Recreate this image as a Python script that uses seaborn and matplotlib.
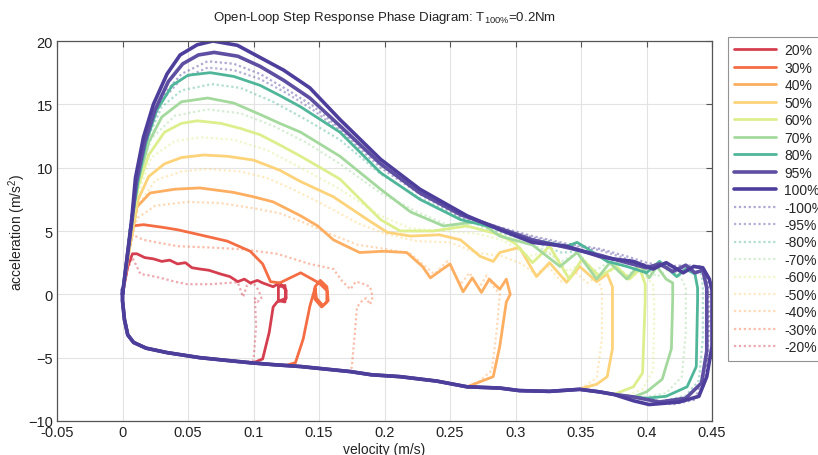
import numpy as np
import pandas as pd
import matplotlib
matplotlib.use("Agg")
import matplotlib.pyplot as plt
import seaborn as sns
from matplotlib.lines import Line2D

# ---------------- data ----------------
LABELS_POS = ["20%", "30%", "40%", "50%", "60%", "70%", "80%", "95%", "100%"]
LABELS_NEG = ["-100%", "-95%", "-80%", "-70%", "-60%", "-50%", "-40%", "-30%", "-20%"]

# shared return path (deceleration branch, high -> low velocity)
BOTTOM_V = [0.39, 0.375, 0.364, 0.349, 0.326, 0.303, 0.288, 0.263, 0.24, 0.212, 0.19, 0.174,
            0.155, 0.136, 0.115, 0.0975, 0.078, 0.059, 0.034, 0.018, 0.0085, 0.004, 0.0015, 0.0, 0.0]
BOTTOM_A = [-8.1, -7.9, -7.7, -7.5, -7.66, -7.6, -7.4, -7.3, -6.85, -6.5, -6.35, -6.1,
            -5.9, -5.7, -5.55, -5.4, -5.2, -5.0, -4.6, -4.25, -3.8, -3.2, -2.0, -0.5, 0.4]

V_20 = [0, 0.004, 0.0076, 0.011, 0.017, 0.0236, 0.03, 0.036, 0.042, 0.048, 0.053, 0.059, 0.066, 0.075,
        0.082, 0.088, 0.093, 0.0975, 0.103, 0.107, 0.115, 0.12, 0.125, 0.124, 0.119, 0.119, 0.124,
        0.125, 0.118, 0.115, 0.112, 0.107, 0.1]
A_20 = [0, 2.2, 3.2, 3.2, 2.9, 2.8, 2.6, 2.7, 2.4, 2.5, 2.1, 2.0, 1.9, 1.6,
        1.4, 1.0, 1.2, 0.9, 1.1, 0.9, 0.6, 0.9, 0.3, -0.6, -0.5, 0.6, 0.7,
        -0.3, -0.6, -1.0, -3.0, -5.1, -5.4]

V_30 = [0, 0.004, 0.0076, 0.016, 0.03, 0.042, 0.059, 0.08, 0.0975, 0.107, 0.113, 0.12, 0.128,
        0.136, 0.143, 0.15, 0.156, 0.156, 0.152, 0.147, 0.147, 0.151, 0.156, 0.157, 0.153, 0.148,
        0.147, 0.143, 0.138, 0.132, 0.125]
A_30 = [0, 3.0, 5.4, 5.5, 5.3, 5.1, 4.7, 4.2, 3.4, 2.4, 1.0, 0.9, 1.3,
        1.7, 1.3, 0.9, 0.3, -0.6, -1.0, -0.4, 0.6, 1.1, 0.6, -0.5, -0.9, -0.3,
        0.5, -0.95, -3.5, -5.4, -5.6]

V_40 = [0, 0.005, 0.011, 0.021, 0.04, 0.059, 0.0846, 0.1, 0.115, 0.136, 0.149, 0.161, 0.181, 0.199,
        0.217, 0.229, 0.235, 0.25, 0.26, 0.267, 0.274, 0.28, 0.288, 0.293, 0.296, 0.293, 0.288,
        0.283, 0.273]
A_40 = [0, 3.5, 6.9, 8.0, 8.3, 8.4, 8.05, 7.7, 7.3, 6.2, 5.4, 4.3, 3.3, 3.4,
        3.3, 2.2, 1.3, 2.4, 0.2, 1.3, 0.15, 1.2, 0.4, 1.2, 0.0, -0.6, -4.1,
        -6.5, -6.9]

V_50 = [0, 0.006, 0.012, 0.02, 0.032, 0.045, 0.062, 0.08, 0.1, 0.12, 0.136, 0.161, 0.187, 0.202,
        0.22, 0.242, 0.258, 0.273, 0.283, 0.288, 0.303, 0.316, 0.326, 0.339, 0.349, 0.362, 0.37,
        0.374, 0.374, 0.374, 0.37, 0.362, 0.351]
A_50 = [0, 4.0, 7.5, 9.3, 10.3, 10.8, 11.0, 10.9, 10.6, 9.8, 8.9, 7.7, 5.9, 4.9,
        4.6, 4.7, 4.3, 3.0, 2.6, 3.3, 3.7, 1.4, 2.5, 0.95, 2.2, 1.0, 1.6,
        0.6, -0.4, -4.3, -6.5, -7.1, -7.4]

V_60 = [0, 0.006, 0.012, 0.02, 0.032, 0.045, 0.057, 0.075, 0.09, 0.105, 0.12, 0.136, 0.166, 0.197,
        0.212, 0.237, 0.263, 0.288, 0.3, 0.313, 0.326, 0.341, 0.351, 0.364, 0.377, 0.387, 0.395,
        0.399, 0.399, 0.397, 0.39, 0.375]
A_60 = [0, 4.5, 8.5, 11.0, 12.8, 13.5, 13.7, 13.5, 13.1, 12.6, 11.8, 10.9, 9.1, 5.9,
        5.0, 5.0, 5.4, 4.7, 4.0, 2.5, 3.8, 1.2, 2.8, 1.4, 2.2, 1.2, 2.0,
        0.8, -0.5, -6.2, -7.3, -7.9]

V_70 = [0, 0.006, 0.012, 0.02, 0.03, 0.045, 0.065, 0.085, 0.105, 0.12, 0.136, 0.166, 0.197, 0.22,
        0.245, 0.26, 0.273, 0.288, 0.313, 0.334, 0.347, 0.362, 0.372, 0.385, 0.395, 0.402, 0.408,
        0.415, 0.42, 0.42, 0.419, 0.412, 0.4, 0.39]
A_70 = [0, 5.0, 9.0, 12.0, 14.0, 15.2, 15.5, 15.1, 14.2, 13.5, 12.8, 10.9, 8.3, 6.5,
        5.4, 5.6, 5.7, 4.6, 3.9, 2.2, 3.3, 1.2, 2.5, 1.2, 2.4, 1.3, 2.2,
        1.2, 0.9, -0.4, -4.3, -6.7, -7.7, -8.1]

V_80 = [0, 0.006, 0.012, 0.018, 0.026, 0.038, 0.05, 0.067, 0.085, 0.105, 0.12, 0.136, 0.166, 0.197,
        0.227, 0.258, 0.278, 0.288, 0.313, 0.339, 0.347, 0.355, 0.37, 0.385, 0.4, 0.41, 0.423,
        0.43, 0.437, 0.439, 0.439, 0.438, 0.431, 0.415, 0.4]
A_80 = [0, 5.2, 9.0, 12.0, 14.5, 16.5, 17.3, 17.5, 17.2, 16.5, 15.7, 14.8, 12.8, 9.6,
        7.5, 5.9, 5.4, 5.2, 4.3, 3.8, 4.1, 3.6, 2.6, 2.2, 1.7, 2.6, 1.4,
        2.0, 1.6, 0.5, -0.4, -5.7, -7.3, -8.05, -8.2]

V_95 = [0, 0.003, 0.007, 0.0105, 0.017, 0.025, 0.035, 0.046, 0.058, 0.07, 0.088, 0.105, 0.123, 0.143,
        0.166, 0.197, 0.227, 0.258, 0.288, 0.313, 0.339, 0.364, 0.385, 0.4, 0.41, 0.42, 0.43,
        0.437, 0.443, 0.446, 0.446, 0.442, 0.43, 0.41]
A_95 = [0, 2.4, 5.6, 8.8, 12.0, 14.6, 16.8, 18.2, 18.9, 19.1, 18.8, 18.0, 16.9, 15.5,
        13.3, 10.3, 8.0, 6.3, 5.2, 4.3, 3.7, 3.1, 2.5, 2.1, 2.4, 1.8, 2.3,
        1.7, 1.9, 0.5, -4.5, -7.0, -8.2, -8.5]

V_100 = [0, 0.003, 0.007, 0.0099, 0.016, 0.0236, 0.034, 0.044, 0.057, 0.069, 0.0877, 0.105, 0.123,
         0.143, 0.166, 0.197, 0.227, 0.263, 0.288, 0.313, 0.339, 0.364, 0.374, 0.39, 0.405, 0.415,
         0.428, 0.436, 0.443, 0.448, 0.45, 0.45, 0.446, 0.44, 0.425, 0.402, 0.39]
A_100 = [0, 2.5, 5.9, 9.2, 12.4, 15.0, 17.4, 18.9, 19.7, 20.0, 19.66, 18.7, 17.7,
         16.3, 13.8, 10.66, 8.3, 6.2, 5.1, 4.1, 3.8, 3.0, 2.8, 2.6, 2.0, 2.5,
         1.7, 2.2, 2.1, 1.2, 0.3, -4.1, -6.5, -8.05, -8.5, -8.7, -8.4]

V_N20 = [0, 0.004, 0.0076, 0.0137, 0.02, 0.029, 0.04, 0.0495, 0.067, 0.08, 0.088, 0.092, 0.095,
         0.1, 0.104, 0.106, 0.103, 0.101, 0.102, 0.1, 0.095]
A_N20 = [0, 2.0, 2.9, 1.6, 1.5, 1.3, 1.0, 0.8, 0.8, 0.9, 0.95, -0.2, 0.7,
         0.9, 0.3, -0.3, -0.6, -0.3, -2.5, -5.2, -5.35]

V_N30 = [0, 0.004, 0.0076, 0.016, 0.042, 0.067, 0.092, 0.118, 0.143, 0.161, 0.168, 0.174, 0.178,
         0.182, 0.189, 0.191, 0.189, 0.186, 0.183, 0.179, 0.177, 0.175, 0.17]
A_N30 = [0, 3.0, 4.7, 4.3, 3.8, 3.7, 3.55, 3.2, 2.4, 2.0, 1.0, 0.4, 1.0,
         0.9, 0.6, -0.2, -0.8, -0.3, -0.5, -1.0, -3.5, -5.8, -6.1]

V_N40 = [0, 0.005, 0.011, 0.025, 0.05, 0.075, 0.1, 0.12, 0.14, 0.16, 0.18, 0.2, 0.22, 0.23,
         0.238, 0.248, 0.258, 0.265, 0.272, 0.278, 0.284, 0.288, 0.286, 0.282, 0.272]
A_N40 = [0, 3.5, 6.0, 7.0, 7.3, 7.2, 6.8, 6.4, 5.6, 4.7, 3.9, 3.6, 3.2, 2.3,
         1.6, 2.6, 0.8, 1.7, 0.5, 1.5, 0.5, 0.0, -2.5, -6.0, -6.9]

V_N50 = [0, 0.006, 0.012, 0.025, 0.045, 0.065, 0.09, 0.11, 0.13, 0.155, 0.18, 0.2, 0.225, 0.25,
         0.27, 0.29, 0.305, 0.315, 0.325, 0.335, 0.345, 0.355, 0.362, 0.366, 0.366, 0.362, 0.352]
A_N50 = [0, 4.0, 7.0, 9.0, 9.7, 9.9, 9.7, 9.2, 8.3, 7.0, 5.6, 4.8, 4.2, 4.1,
         3.3, 3.0, 2.4, 1.6, 2.2, 1.0, 1.8, 0.9, 1.4, 0.3, -3.5, -6.6, -7.3]

V_N60 = [0, 0.006, 0.012, 0.022, 0.04, 0.06, 0.085, 0.11, 0.136, 0.166, 0.197, 0.22, 0.245, 0.27,
         0.29, 0.31, 0.325, 0.34, 0.352, 0.365, 0.378, 0.388, 0.395, 0.405, 0.406, 0.405, 0.397, 0.385]
A_N60 = [0, 4.5, 8.0, 10.8, 12.1, 12.4, 12.2, 11.4, 10.0, 8.3, 6.2, 5.2, 5.0, 4.8,
         4.3, 3.0, 3.4, 1.8, 2.6, 1.5, 2.1, 1.3, 1.8, 0.8, -1.0, -6.0, -7.5, -8.0]

V_N70 = [0, 0.006, 0.012, 0.022, 0.04, 0.065, 0.09, 0.115, 0.14, 0.166, 0.197, 0.225, 0.25, 0.275,
         0.3, 0.32, 0.335, 0.348, 0.36, 0.372, 0.385, 0.397, 0.408, 0.417, 0.427, 0.43, 0.43,
         0.427, 0.415, 0.4]
A_N70 = [0, 5.0, 9.0, 12.3, 14.1, 14.6, 14.3, 13.3, 12.0, 10.3, 8.0, 6.5, 5.4, 5.2,
         4.5, 3.6, 2.6, 3.3, 1.8, 2.6, 1.5, 2.3, 1.4, 2.0, 1.2, 0.5, -3.0,
         -6.5, -7.8, -8.1]

V_N80 = [0, 0.006, 0.012, 0.02, 0.03, 0.045, 0.068, 0.09, 0.115, 0.14, 0.166, 0.197, 0.227, 0.258,
         0.288, 0.313, 0.335, 0.355, 0.37, 0.385, 0.4, 0.412, 0.425, 0.435, 0.442, 0.443, 0.443,
         0.44, 0.43, 0.41]
A_N80 = [0, 5.3, 9.2, 12.5, 14.8, 16.1, 16.6, 16.3, 15.2, 13.8, 12.2, 9.5, 7.6, 6.0,
         4.9, 4.2, 3.3, 3.4, 2.6, 2.5, 1.9, 2.4, 1.5, 2.0, 1.6, 0.5, -3.5,
         -6.8, -8.0, -8.5]

V_N95 = [0, 0.006, 0.012, 0.02, 0.03, 0.045, 0.065, 0.085, 0.105, 0.125, 0.145, 0.166, 0.197, 0.227,
         0.258, 0.288, 0.313, 0.339, 0.364, 0.385, 0.4, 0.415, 0.428, 0.44, 0.446, 0.447, 0.445,
         0.437, 0.42]
A_N95 = [0, 5.5, 9.5, 12.8, 15.3, 17.0, 17.9, 17.7, 17.0, 15.9, 14.6, 12.9, 10.0, 7.9,
         6.1, 5.2, 4.5, 3.9, 3.5, 2.8, 2.3, 2.2, 2.0, 2.1, 1.2, -2.0, -6.3,
         -8.2, -8.6]

V_N100 = [0, 0.006, 0.012, 0.02, 0.03, 0.045, 0.065, 0.085, 0.105, 0.125, 0.145, 0.166, 0.197, 0.227,
          0.258, 0.288, 0.313, 0.339, 0.364, 0.385, 0.4, 0.415, 0.43, 0.442, 0.447, 0.448, 0.446,
          0.438, 0.42]
A_N100 = [0, 5.6, 9.7, 13.0, 15.6, 17.4, 18.4, 18.2, 17.4, 16.2, 14.9, 13.1, 10.2, 8.0,
          6.2, 5.3, 4.6, 4.0, 3.6, 3.0, 2.5, 2.2, 2.3, 2.2, 1.2, -2.0, -6.3,
          -8.3, -8.7]

COLORS_POS = ["#d53e4f", "#f46d43", "#fdae61", "#fdd37a", "#dcef8c", "#a4d99e", "#4fb69a",
              "#5e4fa2", "#4e3e9c"]
COLORS_NEG = ["#4e3e9c", "#5e4fa2", "#4fb69a", "#a4d99e", "#dcef8c", "#fdd37a", "#fdae61",
              "#f46d43", "#d53e4f"]

POS_DATA = [(V_20, A_20), (V_30, A_30), (V_40, A_40), (V_50, A_50), (V_60, A_60),
            (V_70, A_70), (V_80, A_80), (V_95, A_95), (V_100, A_100)]
NEG_DATA = [(V_N100, A_N100), (V_N95, A_N95), (V_N80, A_N80), (V_N70, A_N70), (V_N60, A_N60),
            (V_N50, A_N50), (V_N40, A_N40), (V_N30, A_N30), (V_N20, A_N20)]


def full_loop(v, a):
    """append the shared return branch below the curve's last velocity"""
    last_v = v[-1]
    bv = [x for x in BOTTOM_V if x < last_v]
    ba = [y for x, y in zip(BOTTOM_V, BOTTOM_A) if x < last_v]
    return pd.DataFrame({"velocity": list(v) + bv, "acceleration": list(a) + ba})


# ---------------- styling ----------------
sns.set_style("white")
plt.rcParams["font.family"] = ["Liberation Sans", "DejaVu Sans"]
plt.rcParams["mathtext.default"] = "regular"

fig = plt.figure(figsize=(8.18, 4.56), dpi=100)
ax = fig.add_axes([57 / 818, 34 / 456, 655 / 818, 380 / 456])

# dotted (negative) curves first
for (v, a), col in zip(NEG_DATA, COLORS_NEG):
    df = full_loop(v, a)
    sns.lineplot(data=df, x="velocity", y="acceleration", sort=False, estimator=None, ax=ax,
                 color=col, lw=1.6, alpha=0.45, linestyle=(0, (1, 1.2)), legend=False)

for (v, a), col, lab in zip(POS_DATA, COLORS_POS, LABELS_POS):
    df = full_loop(v, a)
    lw = 2.6 if lab in ("95%", "100%") else 2.0
    sns.lineplot(data=df, x="velocity", y="acceleration", sort=False, estimator=None, ax=ax,
                 color=col, lw=lw, legend=False)

ax.set_xlim(-0.05, 0.45)
ax.set_ylim(-10, 20)
ax.set_xticks(np.arange(-0.05, 0.451, 0.05))
ax.set_xticklabels(["-0.05", "0", "0.05", "0.1", "0.15", "0.2", "0.25", "0.3", "0.35", "0.4", "0.45"])
ax.set_yticks([-10, -5, 0, 5, 10, 15, 20])
ax.grid(True, color="#e3e3e3", lw=0.8)
ax.set_axisbelow(True)
for s in ax.spines.values():
    s.set_color("#555555")
    s.set_linewidth(0.9)
ax.tick_params(direction="in", length=4, width=0.8, color="#555555", top=True, right=True,
               labelsize=10.5, labelcolor="#222222", pad=3)

ax.set_xlabel("velocity (m/s)", fontsize=10, color="#222222", labelpad=2)
ax.set_ylabel("acceleration (m/s$^2$)", fontsize=10, color="#222222", labelpad=0)
ax.set_title("Open-Loop Step Response Phase Diagram: T$_{100\\%}$=0.2Nm", fontsize=9.5,
             color="#222222", pad=15)

handles = []
for col, lab in zip(COLORS_POS, LABELS_POS):
    lw = 2.6 if lab in ("95%", "100%") else 2.0
    handles.append(Line2D([], [], color=col, lw=lw, label=lab))
for col, lab in zip(COLORS_NEG, LABELS_NEG):
    handles.append(Line2D([], [], color=col, lw=1.6, alpha=0.45, linestyle=(0, (1, 1.2)), label=lab))

leg = ax.legend(handles=handles, loc="upper left", bbox_to_anchor=(1.0244, 1.0105),
                borderaxespad=0, frameon=True, fancybox=False, fontsize=10,
                handlelength=3.0, handletextpad=0.6, labelspacing=0.25, borderpad=0.45)
leg.get_frame().set_edgecolor("#777777")
leg.get_frame().set_linewidth(0.8)

fig.savefig("out.png", dpi=100)
